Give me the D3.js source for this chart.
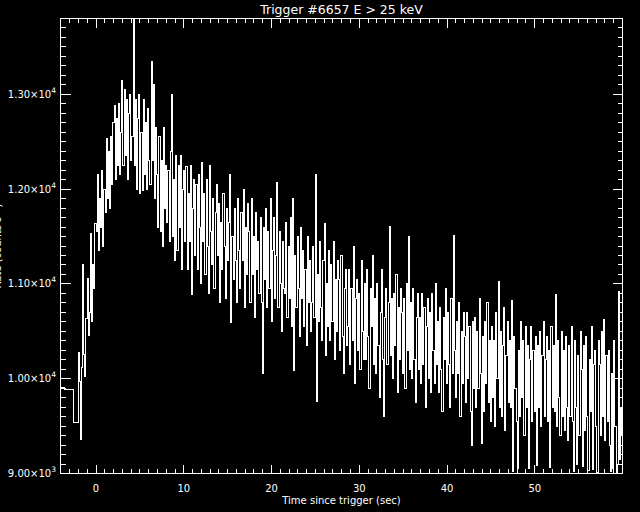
<!DOCTYPE html>
<html>
<head>
<meta charset="utf-8">
<script src="https://cdn.jsdelivr.net/npm/d3@7"></script>
<style>
  html, body { margin: 0; padding: 0; background: #000; }
  svg { display: block; }
</style>
</head>
<body>
<div id="chart"></div>
<script>
// ---- data ----
const titleText = "Trigger #6657 E > 25 keV";
const xLabel = "Time since trigger (sec)";
const yLabel = "Rate (counts s\u207B\u00B9)";

// coarse pre-trigger bins: edges (sec) and rates (counts/s)
const preEdges = [-4.05, -3.63, -2.61, -2.048];
const preRates = [9905, 9885, 9540];

// fine bins after -2.048 s, 0.128 s wide, one row per 1.024 s
const fineStart = -2.048;
const fineWidth = 0.128;
const fineRates = [
  10280, 9970, 9360, 10120, 11200, 10260, 10020, 10640,
  11060, 10460, 10700, 11530, 10600, 11200, 10950, 11640,
  11550, 12150, 11350, 11900, 11600, 12200, 11400, 12000,
  11750, 12530, 11900, 12400, 11800, 12550, 12050, 12700,
  12880, 12100, 12750, 12250, 12900, 12150, 12600, 13150,
  12250, 13050, 12350, 12950, 12100, 12800, 13000, 12300,
  12550, 13800, 12250, 12950, 12000, 12750, 13000, 11950,
  12600, 11990, 12950, 12150, 12700, 12000, 12850, 12300,
  12050, 13350, 12300, 13100, 11900, 12650, 12150, 11600,
  12550, 11550, 12300, 11400, 12650, 11800, 12250, 11650,
  12200, 11450, 12400, 13000, 11500, 12100, 11250, 12350,
  11350, 12250, 11600, 12350, 11150, 12000, 12200, 11450,
  12240, 11150, 11950, 11450, 12250, 10890, 11800, 12100,
  11300, 12050, 11150, 12150, 11600, 11000, 12280, 11450,
  11950, 11100, 12100, 11400, 10900, 12250, 11550, 11200,
  11900, 10950, 11750, 12050, 11300, 11850, 10800, 11650,
  11150, 11950, 11400, 10850, 11800, 11250, 11650, 12150,
  10590, 11500, 11050, 11800, 11250, 10800, 11900, 11350,
  10950, 11750, 11250, 12000, 10750, 11600, 11100, 11850,
  11550, 10800, 11900, 11100, 11500, 10650, 11750, 11150,
  11450, 10900, 11700, 10800, 10050, 11600, 11050, 11800,
  10750, 11550, 10950, 11900, 10600, 11350, 11700, 10850,
  11300, 12070, 10750, 11550, 11000, 10500, 11450, 10950,
  10900, 11650, 10650, 11400, 10850, 11700, 10550, 11900,
  10090, 11300, 10750, 11500, 10950, 10450, 11600, 10850,
  11350, 10550, 11150, 10350, 11500, 10800, 11250, 10500,
  10800, 11400, 10650, 12150, 9760, 11100, 10600, 11450,
  10750, 10400, 11250, 11640, 10250, 11000, 10550, 11350,
  10400, 11200, 10600, 11450, 10200, 11050, 10500, 11250,
  11050, 10300, 11300, 10450, 10050, 10950, 11150, 10350,
  10550, 11150, 10150, 10950, 10400, 11400, 9950, 10850,
  11050, 10300, 10900, 10100, 11250, 10500, 10200, 11000,
  10200, 11150, 10450, 9900, 10950, 10550, 11300, 10150,
  10850, 10050, 11000, 10350, 9800, 10700, 11150, 10200,
  9600, 10650, 10950, 10150, 10800, 11610, 10250, 10850,
  10000, 10900, 10350, 11100, 9850, 10750, 10200, 10950,
  10700, 10050, 10850, 9900, 11000, 10300, 11500, 10100,
  10800, 10000, 10950, 10200, 9750, 10650, 10900, 10100,
  10650, 9950, 10900, 10150, 10750, 9700, 10550, 10850,
  10000, 10700, 9850, 10900, 10300, 9950, 11000, 10150,
  10600, 9850, 10750, 10100, 9650, 10650, 10200, 10950,
  9950, 10700, 10150, 9700, 10850, 10050, 11510, 10300,
  9800, 10600, 10050, 10800, 9600, 10500, 9950, 10700,
  10450, 9750, 10700, 10000, 10550, 9650, 9300, 10600,
  9900, 10650, 9700, 10500, 9900, 10850, 10050, 9320,
  10450, 9650, 10600, 9950, 10800, 9750, 10400, 9550,
  10550, 9800, 10400, 9500, 10700, 10000, 11025, 9700,
  10500, 9600, 10350, 10750, 9450, 10250, 10600, 9750,
  10400, 9700, 10830, 9020, 10450, 9900, 9550, 9050,
  10300, 9600, 10600, 9800, 10400, 9400, 10550, 9700,
  10350, 9050, 10200, 10550, 9550, 10300, 9650, 10450,
  9080, 10350, 9700, 10500, 9500, 10250, 10600, 9600,
  10200, 10450, 9550, 10300, 9060, 10550, 9700, 10350,
  9650, 10890, 9500, 10400, 9800, 9400, 10500, 9600,
  10300, 9450, 10450, 9700, 9350, 10350, 9600, 10550,
  9550, 9020, 10400, 9700, 9100, 10250, 9400, 10500,
  10100, 9070, 10350, 9450, 10450, 9600, 9030, 10200,
  9650, 10550, 9040, 10150, 10300, 9500, 9010, 10400,
  10150, 9400, 10500, 9600, 10620, 9350, 10250, 9550,
  10300, 9300, 9020, 10050, 9050, 10400, 9500, 9010,
  9100, 10920, 9150, 9700, 9400, 9800, 9500, 9600
];

const xTicks = [0, 10, 20, 30, 40, 50];
const yTicks = [9000, 10000, 11000, 12000, 13000];
const yTickMant = ["9.00", "1.00", "1.10", "1.20", "1.30"];
const yTickExp = ["3", "4", "4", "4", "4"];

// ---- layout ----
const W = 640, H = 512;
const box = { left: 60.5, right: 622.5, top: 18.5, bottom: 473.5 };
const font = "DejaVu Sans, sans-serif";

const svg = d3.select("#chart").append("svg")
  .attr("width", W).attr("height", H)
  .style("background", "#000");

const x = d3.scaleLinear().domain([-4.05, 60]).range([box.left, box.right]);
const y = d3.scaleLinear().domain([9000, 13800]).range([box.bottom, box.top]);

// build step points
const pts = [];
preRates.forEach((v, i) => pts.push({ t: preEdges[i], v }));
fineRates.forEach((v, i) => pts.push({ t: fineStart + i * fineWidth, v }));
pts.push({ t: fineStart + fineRates.length * fineWidth, v: fineRates[fineRates.length - 1] });

svg.append("clipPath").attr("id", "plotclip")
  .append("rect")
  .attr("x", box.left).attr("y", box.top)
  .attr("width", box.right - box.left).attr("height", box.bottom - box.top);

const line = d3.line()
  .x(d => x(d.t))
  .y(d => y(d.v))
  .curve(d3.curveStepAfter);

svg.append("path")
  .datum(pts)
  .attr("clip-path", "url(#plotclip)")
  .attr("d", line)
  .attr("fill", "none")
  .attr("stroke", "#fff")
  .attr("stroke-width", 1)
  .attr("shape-rendering", "crispEdges");

// ---- axes box and inward ticks (all four sides) ----
const ax = svg.append("g")
  .attr("stroke", "#fff")
  .attr("stroke-width", 1)
  .attr("shape-rendering", "crispEdges");

ax.append("rect")
  .attr("x", box.left).attr("y", box.top)
  .attr("width", box.right - box.left).attr("height", box.bottom - box.top)
  .attr("fill", "none");

const xMinor = d3.range(-4, 61, 1).filter(t => t >= -4.05 && t <= 60 && !xTicks.includes(t));
const yMinor = d3.range(9000, 13801, 100).filter(v => !yTicks.includes(v));

function xTickMarks(vals, len) {
  ax.selectAll(null).data(vals).join("line")
    .attr("x1", d => x(d)).attr("x2", d => x(d))
    .attr("y1", box.bottom).attr("y2", box.bottom - len);
  ax.selectAll(null).data(vals).join("line")
    .attr("x1", d => x(d)).attr("x2", d => x(d))
    .attr("y1", box.top).attr("y2", box.top + len);
}
function yTickMarks(vals, len) {
  ax.selectAll(null).data(vals).join("line")
    .attr("y1", d => y(d)).attr("y2", d => y(d))
    .attr("x1", box.left).attr("x2", box.left + len);
  ax.selectAll(null).data(vals).join("line")
    .attr("y1", d => y(d)).attr("y2", d => y(d))
    .attr("x1", box.right).attr("x2", box.right - len);
}
xTickMarks(xTicks, 9);
xTickMarks(xMinor, 4.5);
yTickMarks(yTicks, 10);
yTickMarks(yMinor, 5);

// ---- text ----
svg.append("g").selectAll("text").data(xTicks).join("text")
  .attr("x", d => x(d)).attr("y", 492)
  .attr("text-anchor", "middle")
  .attr("fill", "#fff")
  .style("font-family", font).style("font-size", "10px")
  .text(d => d);

const yl = svg.append("g").selectAll("text").data(yTicks).join("text")
  .attr("x", 56).attr("y", d => y(d) + 3.5)
  .attr("text-anchor", "end")
  .attr("fill", "#fff")
  .style("font-family", font).style("font-size", "10px");
yl.append("tspan").text((d, i) => yTickMant[i] + "\u00D710");
yl.append("tspan").attr("dy", -5).style("font-size", "7.5px").text((d, i) => yTickExp[i]);

svg.append("text")
  .attr("x", (box.left + box.right) / 2).attr("y", 14)
  .attr("text-anchor", "middle")
  .attr("fill", "#fff")
  .style("font-family", font).style("font-size", "12.5px")
  .text(titleText);

svg.append("text")
  .attr("x", (box.left + box.right) / 2).attr("y", 504)
  .attr("text-anchor", "middle")
  .attr("fill", "#fff")
  .style("font-family", font).style("font-size", "10px")
  .text(xLabel);

// y title sits mostly past the left edge, as in the original
svg.append("text")
  .attr("transform", `translate(0.5,${(box.top + box.bottom) / 2}) rotate(-90)`)
  .attr("text-anchor", "middle")
  .attr("fill", "#fff")
  .style("font-family", font).style("font-size", "10px")
  .text(yLabel);
</script>
</body>
</html>
